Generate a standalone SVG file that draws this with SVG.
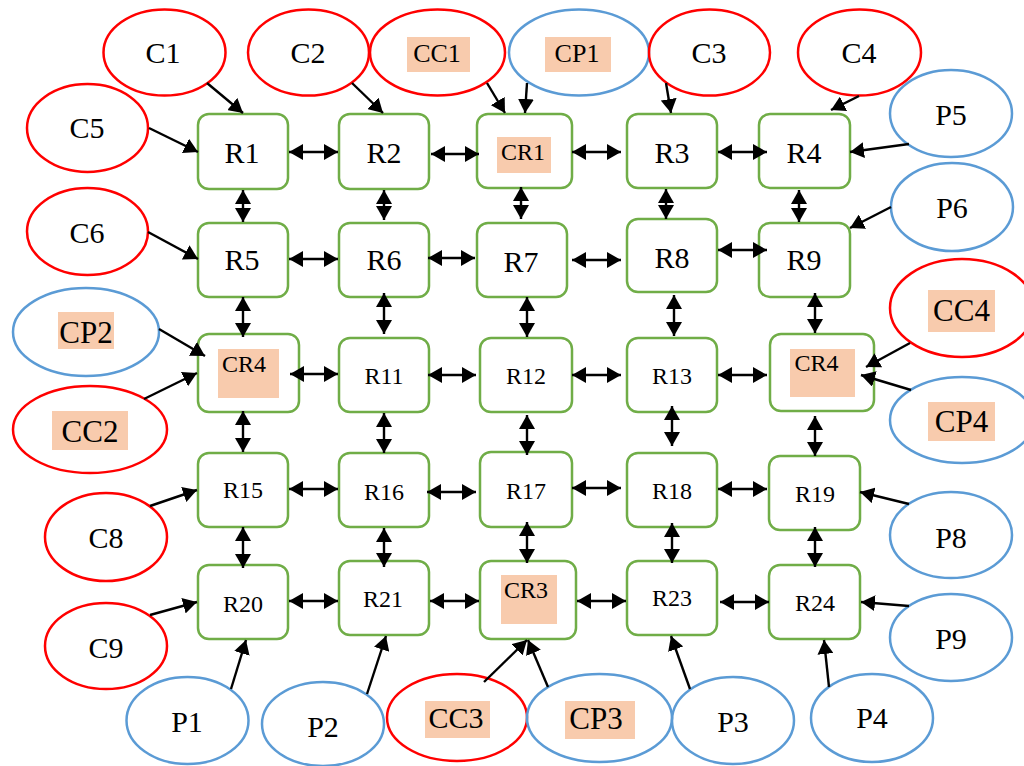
<svg xmlns="http://www.w3.org/2000/svg" width="1024" height="766" viewBox="0 0 1024 766">
<defs>
<marker id="ah" viewBox="0 0 14 16" refX="14" refY="8" markerWidth="14" markerHeight="16" markerUnits="userSpaceOnUse" orient="auto-start-reverse"><path d="M0,0 L14,8 L0,16 z" fill="#000"/></marker>
<style>
.r{fill:#fff;stroke:#70AD47;stroke-width:2.5}
.cr{fill:none;stroke:#FF0000;stroke-width:2.5}
.cb{fill:none;stroke:#5B9BD5;stroke-width:2.5}
.hl{fill:#F8CBAD}
text{font-family:"Liberation Serif","Times New Roman",serif;fill:#000;text-anchor:middle}
.t30{font-size:30px}
.t31{font-size:31px}
.t26{font-size:26px}
.t24{font-size:24px}
.a{stroke:#000;stroke-width:2.4;marker-end:url(#ah)}
.d{stroke:#000;stroke-width:2.4;marker-start:url(#ah);marker-end:url(#ah)}
</style>
</defs>
<rect width="1024" height="766" fill="#fff"/>

<!-- outer nodes -->
<g id="C1"><ellipse class="cr" cx="164.5" cy="52.5" rx="61" ry="43"/><text class="t30" x="163" y="63">C1</text></g>
<g id="C2"><ellipse class="cr" cx="308.5" cy="52.5" rx="60.5" ry="43"/><text class="t30" x="308" y="63">C2</text></g>
<g id="CC1"><ellipse class="cr" cx="437.5" cy="52.5" rx="67.5" ry="43"/><rect class="hl" x="407" y="37" width="63" height="35"/><text class="t26" x="437" y="62">CC1</text></g>
<g id="CP1"><ellipse class="cb" cx="579" cy="52.5" rx="70" ry="43"/><rect class="hl" x="545" y="37" width="66" height="35"/><text class="t26" x="577" y="62">CP1</text></g>
<g id="C3"><ellipse class="cr" cx="709.5" cy="52.5" rx="60.5" ry="43"/><text class="t30" x="709" y="63">C3</text></g>
<g id="C4"><ellipse class="cr" cx="859.5" cy="52.5" rx="61.5" ry="43"/><text class="t30" x="859" y="63">C4</text></g>
<g id="P5"><ellipse class="cb" cx="951" cy="113.5" rx="61" ry="43.5"/><text class="t30" x="951" y="125">P5</text></g>
<g id="C5"><ellipse class="cr" cx="87.5" cy="128" rx="60.5" ry="44"/><text class="t30" x="87" y="138">C5</text></g>
<g id="C6"><ellipse class="cr" cx="87.5" cy="231.5" rx="60.5" ry="43.5"/><text class="t30" x="87" y="243">C6</text></g>
<g id="P6"><ellipse class="cb" cx="952" cy="207" rx="61" ry="44"/><text class="t30" x="952" y="218">P6</text></g>
<g id="CP2"><ellipse class="cb" cx="86" cy="332" rx="73" ry="44"/><rect class="hl" x="58" y="312" width="56" height="37"/><text class="t31" x="86" y="343">CP2</text></g>
<g id="CC2"><ellipse class="cr" cx="90" cy="429.5" rx="77" ry="43.5"/><rect class="hl" x="52" y="411" width="76" height="39"/><text class="t31" x="90" y="442">CC2</text></g>
<g id="CC4"><ellipse class="cr" cx="962" cy="308" rx="72" ry="49"/><rect class="hl" x="928" y="290" width="67" height="42"/><text class="t31" x="961.5" y="321">CC4</text></g>
<g id="CP4"><ellipse class="cb" cx="962" cy="420" rx="72" ry="43"/><rect class="hl" x="928" y="402" width="67" height="39"/><text class="t31" x="961.5" y="432">CP4</text></g>
<g id="C8"><ellipse class="cr" cx="106" cy="537" rx="61" ry="44"/><text class="t30" x="106" y="548">C8</text></g>
<g id="C9"><ellipse class="cr" cx="106" cy="646" rx="61" ry="43"/><text class="t30" x="106" y="658">C9</text></g>
<g id="P8"><ellipse class="cb" cx="951" cy="535" rx="61" ry="43"/><text class="t30" x="951" y="548">P8</text></g>
<g id="P9"><ellipse class="cb" cx="951" cy="637.5" rx="61" ry="43.5"/><text class="t30" x="951" y="649">P9</text></g>
<g id="P1"><ellipse class="cb" cx="187.5" cy="720.5" rx="61" ry="43.5"/><text class="t30" x="187" y="732">P1</text></g>
<g id="P2"><ellipse class="cb" cx="323" cy="724" rx="61" ry="42"/><text class="t30" x="323" y="737">P2</text></g>
<g id="CC3"><ellipse class="cr" cx="457" cy="717.5" rx="70" ry="43.5"/><rect class="hl" x="425" y="701" width="65" height="37"/><text class="t30" x="456" y="728">CC3</text></g>
<g id="CP3"><ellipse class="cb" cx="599.5" cy="718" rx="72.5" ry="44"/><rect class="hl" x="565" y="701" width="70" height="38"/><text class="t31" x="596" y="729">CP3</text></g>
<g id="P3"><ellipse class="cb" cx="733" cy="720.5" rx="61" ry="43.5"/><text class="t30" x="733" y="732">P3</text></g>
<g id="P4"><ellipse class="cb" cx="872" cy="718" rx="61" ry="44"/><text class="t30" x="872" y="728">P4</text></g>

<!-- routers -->
<g id="R1"><rect class="r" x="198" y="114" width="90" height="75" rx="11"/><text class="t30" x="242" y="163">R1</text></g>
<g id="R2"><rect class="r" x="339" y="114" width="90" height="75" rx="11"/><text class="t30" x="384" y="163">R2</text></g>
<g id="CR1"><rect class="r" x="477" y="114" width="95" height="74" rx="11"/><rect class="hl" x="497" y="137" width="54" height="36"/><text class="t24" x="523" y="160">CR1</text></g>
<g id="R3"><rect class="r" x="627" y="114" width="90" height="74" rx="11"/><text class="t30" x="672" y="163">R3</text></g>
<g id="R4"><rect class="r" x="759" y="114" width="91" height="74" rx="11"/><text class="t30" x="804" y="163">R4</text></g>

<g id="R5"><rect class="r" x="198" y="223" width="90" height="74" rx="11"/><text class="t30" x="242" y="270">R5</text></g>
<g id="R6"><rect class="r" x="339" y="223" width="90" height="74" rx="11"/><text class="t30" x="384" y="270">R6</text></g>
<g id="R7"><rect class="r" x="477" y="223" width="90" height="74" rx="11"/><text class="t30" x="521" y="272">R7</text></g>
<g id="R8"><rect class="r" x="627" y="219" width="90" height="73" rx="11"/><text class="t30" x="672" y="268">R8</text></g>
<g id="R9"><rect class="r" x="759" y="223" width="91" height="74" rx="11"/><text class="t30" x="804" y="270">R9</text></g>

<g id="CR4a"><rect class="r" x="198" y="334" width="101" height="78" rx="11"/><rect class="hl" x="218" y="349" width="61" height="49"/><text class="t24" x="244" y="372">CR4</text></g>
<g id="R11"><rect class="r" x="339" y="338" width="90" height="74" rx="11"/><text class="t24" x="384" y="384">R11</text></g>
<g id="R12"><rect class="r" x="480" y="338" width="92" height="74" rx="11"/><text class="t24" x="526" y="384">R12</text></g>
<g id="R13"><rect class="r" x="627" y="338" width="90" height="74" rx="11"/><text class="t24" x="672" y="384">R13</text></g>
<g id="CR4b"><rect class="r" x="770" y="334" width="104" height="77" rx="11"/><rect class="hl" x="790" y="349" width="65" height="48"/><text class="t24" x="816.5" y="371">CR4</text></g>

<g id="R15"><rect class="r" x="198" y="453" width="90" height="74" rx="11"/><text class="t24" x="243" y="498">R15</text></g>
<g id="R16"><rect class="r" x="339" y="453" width="90" height="74" rx="11"/><text class="t24" x="384" y="500">R16</text></g>
<g id="R17"><rect class="r" x="480" y="452" width="92" height="75" rx="11"/><text class="t24" x="526" y="499">R17</text></g>
<g id="R18"><rect class="r" x="627" y="453" width="90" height="74" rx="11"/><text class="t24" x="672" y="499">R18</text></g>
<g id="R19"><rect class="r" x="769" y="456" width="91" height="74" rx="11"/><text class="t24" x="815" y="502">R19</text></g>

<g id="R20"><rect class="r" x="198" y="565" width="90" height="74" rx="11"/><text class="t24" x="243" y="612">R20</text></g>
<g id="R21"><rect class="r" x="339" y="561" width="90" height="74" rx="11"/><text class="t24" x="383" y="607">R21</text></g>
<g id="CR3"><rect class="r" x="480" y="561" width="96" height="78" rx="11"/><rect class="hl" x="501" y="575" width="56" height="49"/><text class="t24" x="526" y="598">CR3</text></g>
<g id="R23"><rect class="r" x="627" y="561" width="90" height="74" rx="11"/><text class="t24" x="672" y="606">R23</text></g>
<g id="R24"><rect class="r" x="769" y="565" width="91" height="74" rx="11"/><text class="t24" x="815" y="611">R24</text></g>

<g id="connectors">
<!-- inputs -->
<line class="a" x1="207" y1="83" x2="243" y2="113"/>
<line class="a" x1="352" y1="83" x2="383" y2="113"/>
<line class="a" x1="487" y1="83" x2="505" y2="113"/>
<line class="a" x1="527" y1="83" x2="525" y2="113"/>
<line class="a" x1="666" y1="83" x2="671" y2="113"/>
<line class="a" x1="859" y1="96" x2="831" y2="110"/>
<line class="a" x1="909" y1="144" x2="850" y2="152"/>
<line class="a" x1="149" y1="128" x2="198" y2="152"/>
<line class="a" x1="148" y1="232" x2="198" y2="259"/>
<line class="a" x1="891" y1="207" x2="850" y2="228"/>
<line class="a" x1="159" y1="329" x2="205" y2="356"/>
<line class="a" x1="144" y1="399" x2="197" y2="373"/>
<line class="a" x1="910" y1="343" x2="866" y2="367"/>
<line class="a" x1="911" y1="390" x2="861" y2="375"/>
<line class="a" x1="150" y1="506" x2="197" y2="490"/>
<line class="a" x1="150" y1="615" x2="197" y2="602"/>
<line class="a" x1="231" y1="689" x2="246" y2="640"/>
<line class="a" x1="367" y1="694" x2="386" y2="636"/>
<line class="a" x1="484" y1="682" x2="527" y2="640"/>
<line class="a" x1="548" y1="687" x2="528" y2="640"/>
<line class="a" x1="690" y1="689" x2="671" y2="636"/>
<line class="a" x1="829" y1="687" x2="824" y2="640"/>
<line class="a" x1="909" y1="504" x2="860" y2="492"/>
<line class="a" x1="909" y1="606" x2="861" y2="602"/>
<!-- horizontal links -->
<line class="d" x1="289" y1="152" x2="338" y2="152"/>
<line class="d" x1="431" y1="154" x2="479" y2="154"/>
<line class="d" x1="572" y1="152" x2="621" y2="152"/>
<line class="d" x1="718" y1="152" x2="767" y2="152"/>
<line class="d" x1="289" y1="259" x2="338" y2="259"/>
<line class="d" x1="428" y1="258" x2="475" y2="258"/>
<line class="d" x1="572" y1="260" x2="621" y2="260"/>
<line class="d" x1="718" y1="250" x2="767" y2="250"/>
<line class="d" x1="290" y1="374" x2="338" y2="374"/>
<line class="d" x1="428" y1="375" x2="476" y2="375"/>
<line class="d" x1="572" y1="375" x2="621" y2="375"/>
<line class="d" x1="718" y1="375" x2="767" y2="375"/>
<line class="d" x1="289" y1="489" x2="338" y2="489"/>
<line class="d" x1="427" y1="492" x2="476" y2="492"/>
<line class="d" x1="572" y1="488" x2="621" y2="488"/>
<line class="d" x1="718" y1="489" x2="767" y2="489"/>
<line class="d" x1="289" y1="601" x2="338" y2="601"/>
<line class="d" x1="430" y1="601" x2="479" y2="601"/>
<line class="d" x1="577" y1="601" x2="626" y2="601"/>
<line class="d" x1="720" y1="602" x2="769" y2="602"/>
<!-- vertical links -->
<line class="d" x1="243" y1="190" x2="243" y2="222"/>
<line class="d" x1="243" y1="297" x2="243" y2="337"/>
<line class="d" x1="243" y1="411" x2="243" y2="452"/>
<line class="d" x1="243" y1="527" x2="243" y2="568"/>
<line class="d" x1="384" y1="190" x2="384" y2="220"/>
<line class="d" x1="384" y1="293" x2="384" y2="334"/>
<line class="d" x1="384" y1="413" x2="384" y2="453"/>
<line class="d" x1="384" y1="528" x2="384" y2="567"/>
<line class="d" x1="521" y1="187" x2="521" y2="219"/>
<line class="d" x1="527" y1="297" x2="527" y2="337"/>
<line class="d" x1="527" y1="415" x2="527" y2="455"/>
<line class="d" x1="527" y1="522" x2="527" y2="563"/>
<line class="d" x1="666" y1="189" x2="666" y2="219"/>
<line class="d" x1="674" y1="295" x2="674" y2="336"/>
<line class="d" x1="672" y1="406" x2="672" y2="446"/>
<line class="d" x1="672" y1="523" x2="672" y2="563"/>
<line class="d" x1="799" y1="190" x2="799" y2="222"/>
<line class="d" x1="815" y1="293" x2="815" y2="333"/>
<line class="d" x1="815" y1="416" x2="815" y2="456"/>
<line class="d" x1="815" y1="527" x2="815" y2="567"/>
</g>
</svg>
